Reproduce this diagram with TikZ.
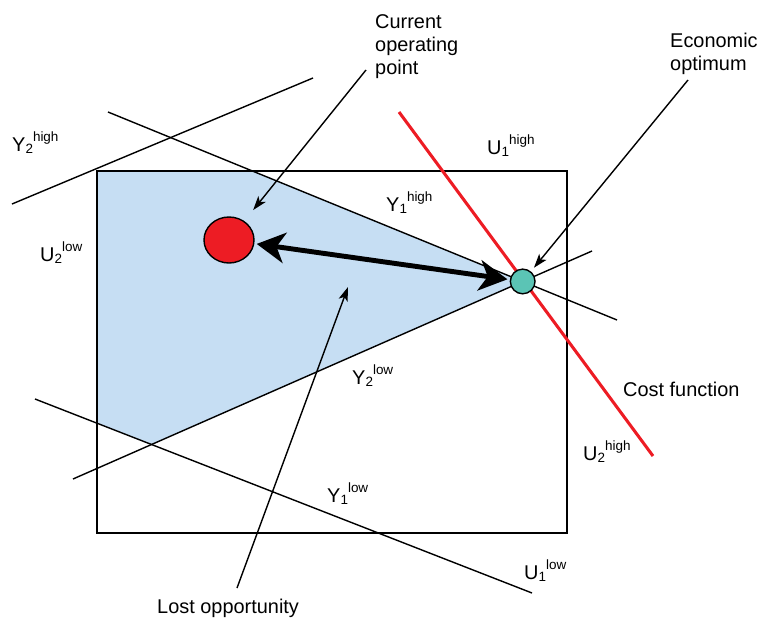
\documentclass[tikz,border=0pt]{standalone}
\usepackage{fontspec}
\setmainfont{Liberation Sans}
\usetikzlibrary{arrows.meta,shapes.geometric}
\definecolor{OpBlue}{HTML}{C6DEF3}
\definecolor{OpRed}{HTML}{ED1C24}
\definecolor{OpTeal}{HTML}{5BC4B5}
\newcommand{\limlbl}[3]{#1\raisebox{-2pt}{\fontsize{11.5}{13}\selectfont #2}\raisebox{8.5pt}{\fontsize{11.5}{13}\selectfont #3}}

\begin{document}
\begin{tikzpicture}[x=0.03cm,y=-0.03cm,
  every node/.style={inner sep=0pt,font=\fontsize{17}{19.4}\selectfont},
  bound/.style={line width=1.2pt},
  rim/.style={line width=1.6pt},
  costline/.style={OpRed,line width=2.6pt},
  thinarrow/.style={line width=1.2pt,-{Stealth[length=12pt,width=8pt,inset=3pt]}},
  movearrow/.style={line width=4.2pt,{Stealth[length=24pt,width=26pt,inset=7pt]}-{Stealth[length=24pt,width=26pt,inset=7pt]}},
  curpt/.style={draw,ellipse,fill=OpRed,line width=1.2pt,minimum width=1.5cm,minimum height=1.38cm},
  optpt/.style={draw,circle,fill=OpTeal,line width=1.2pt,minimum size=0.74cm},
  limtext/.style={anchor=base west}
]
\path[use as bounding box] (0,0) rectangle (758,617);
% rectangle corners and line end points
\coordinate (tl) at (97,171);
\coordinate (tr) at (567,171);
\coordinate (br) at (567,533);
\coordinate (bl) at (97,533);
\coordinate (y2hA) at (12,204);
\coordinate (y2hB) at (313,78);
\coordinate (y1hA) at (108,112);
\coordinate (y1hB) at (617,320);
\coordinate (y2lA) at (73,479);
\coordinate (y2lB) at (592,251);
\coordinate (y1lA) at (35,399);
\coordinate (y1lB) at (532,593);
\coordinate (costA) at (399,112);
\coordinate (costB) at (653,456);
% feasible region
\fill[OpBlue] (tl) -- (intersection of y1hA--y1hB and tl--tr)
  -- (intersection of y1hA--y1hB and y2lA--y2lB)
  -- (intersection of y2lA--y2lB and y1lA--y1lB)
  -- (intersection of y1lA--y1lB and tl--bl) -- cycle;
\draw[rim] (tl) rectangle (br);
\draw[bound] (y2hA) -- (y2hB);
\draw[bound] (y1hA) -- (y1hB);
\draw[bound] (y2lA) -- (y2lB);
\draw[bound] (y1lA) -- (y1lB);
\draw[costline] (costA) -- (costB);
% operating points
\node[curpt] (cur) at (229,240) {};
\node[optpt] (opt) at (intersection of y1hA--y1hB and y2lA--y2lB) {};
\draw[movearrow,shorten <=2pt,shorten >=2pt] (opt) -- (cur);
% labels
\node[limtext] (curtxt) at (375,74) [align=left] {Current\\operating\\point};
\node[limtext] (opttxt) at (670,70) [align=left] {Economic\\optimum};
\node[limtext] (costtxt) at (623,396) {Cost function};
\node[limtext] (lost) at (157,613) {Lost opportunity};
\node[limtext] (y2h) at (12,151) {\limlbl{Y}{2}{high}};
\node[limtext] (u2l) at (40,261) {\limlbl{U}{2}{low}};
\node[limtext] (u1h) at (487,154) {\limlbl{U}{1}{high}};
\node[limtext] (y1h) at (386,211) {\limlbl{Y}{1}{high}};
\node[limtext] (y2l) at (352,384) {\limlbl{Y}{2}{low}};
\node[limtext] (y1l) at (327,502) {\limlbl{Y}{1}{low}};
\node[limtext] (u1l) at (524,579) {\limlbl{U}{1}{low}};
\node[limtext] (u2h) at (583,460) {\limlbl{U}{2}{high}};
% pointers
\coordinate (curtail) at (366,70);
\coordinate (opttail) at (688,80);
\coordinate (losttail) at (237,588);
\coordinate (losthead) at (348,287);
\draw[thinarrow,shorten >=12pt] (curtail) -- (cur);
\draw[thinarrow,shorten >=4pt] (opttail) -- (opt);
\draw[thinarrow] (losttail) -- (losthead);
\end{tikzpicture}
\end{document}
